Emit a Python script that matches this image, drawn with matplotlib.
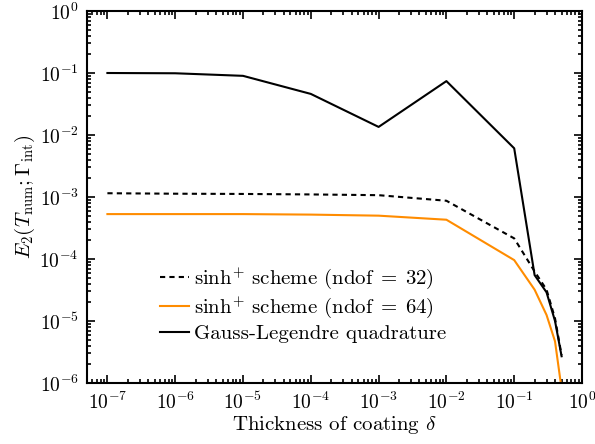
import numpy as np
import matplotlib
matplotlib.use("Agg")
from matplotlib import pyplot as plt

plt.rcParams['font.family'] = 'serif'
plt.rcParams['font.serif'] = ['cmr10']
plt.rcParams['mathtext.fontset'] = 'cm'
plt.rcParams['axes.formatter.use_mathtext'] = True
plt.rcParams['axes.unicode_minus'] = False

# thickness values
delta = [1e-7, 1e-6, 1e-5, 1e-4, 1e-3, 1e-2, 1e-1, 0.2, 0.3, 0.4, 0.5]

# errors
err_sinh32 = [1.15e-3, 1.13e-3, 1.12e-3, 1.1e-3, 1.07e-3, 8.7e-4, 2.15e-4, 6.3e-5, 3.2e-5, 1.1e-5, 2.8e-6]
err_sinh64 = [5.3e-4, 5.3e-4, 5.3e-4, 5.2e-4, 5.0e-4, 4.3e-4, 9.6e-5, 3.2e-5, 1.25e-5, 4.7e-6, 8e-7]
err_gauss = [0.1, 0.099, 0.09, 0.046, 0.0135, 0.074, 0.0061, 5.5e-5, 2.9e-5, 1.0e-5, 2.7e-6]

fig = plt.figure(figsize=(5.95, 4.44), dpi=100)
ax = fig.add_axes([87/595, 1 - 383/444, (582-87)/595, (383-11)/444])

ax.loglog(delta, err_sinh32, color='black', ls=(0, (2.5, 2)), lw=1.5,
          label=r'sinh$^{+}$ scheme (ndof$\;=\;$32)')
ax.loglog(delta, err_sinh64, color='#ff8c00', lw=1.5,
          label=r'sinh$^{+}$ scheme (ndof$\;=\;$64)')
ax.loglog(delta, err_gauss, color='black', lw=1.5, label='Gauss-Legendre quadrature')

ax.set_xlim(5e-8, 1)
ax.set_ylim(1e-6, 1)
ax.set_xticks([1e-7, 1e-6, 1e-5, 1e-4, 1e-3, 1e-2, 1e-1, 1])
ax.set_yticks([1e-6, 1e-5, 1e-4, 1e-3, 1e-2, 1e-1, 1])
ax.tick_params(which='both', direction='in', top=True, right=True, labelsize=14, width=1.2)
ax.tick_params(which='major', length=6, pad=6)
ax.tick_params(which='minor', length=3)
for s in ax.spines.values():
    s.set_linewidth(1.5)

ax.set_xlabel(r'Thickness of coating $\delta$', fontsize=15, labelpad=1)
ax.set_ylabel(r'$E_2(T_{\mathrm{num}};\Gamma_{\mathrm{int}})$', fontsize=15, labelpad=2)

ax.legend(loc='lower left', bbox_to_anchor=(0.13, 0.085), frameon=False, fontsize=15,
          handlelength=1.4, handletextpad=0.25, labelspacing=0.2, borderaxespad=0)

fig.savefig('out.png', dpi=100)
